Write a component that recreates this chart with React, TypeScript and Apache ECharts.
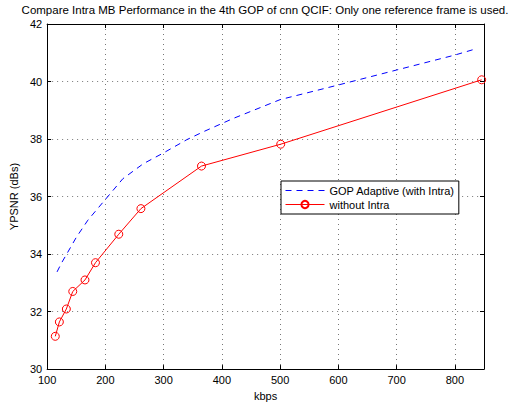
import React, { useEffect, useRef } from "react";
import * as echarts from "echarts";

// Bit rate (kbps) and Y-PSNR (dB) for the 4th GOP of cnn QCIF
const adaptiveKbps = [117, 125, 135, 150, 170, 200, 230, 265, 300, 340, 370, 420, 500, 600, 700, 800, 835];
const adaptivePsnr = [33.38, 33.7, 34.05, 34.58, 35.18, 35.9, 36.62, 37.14, 37.52, 37.98, 38.27, 38.72, 39.37, 39.88, 40.4, 40.92, 41.13];

const noIntraKbps = [114, 121, 133, 144, 165, 183, 223, 261, 365, 501, 846];
const noIntraPsnr = [31.14, 31.64, 32.09, 32.7, 33.1, 33.7, 34.69, 35.58, 37.06, 37.82, 40.06];

const xTicks = { min: 100, max: 850, interval: 100 };
const yTicks = { min: 30, max: 42, interval: 2 };

const FONT = "'Liberation Sans', Arial, Helvetica, sans-serif";

export default function App() {
  const ref = useRef<HTMLDivElement>(null);

  useEffect(() => {
    if (!ref.current) return;
    const chart = echarts.init(ref.current, undefined, { renderer: "svg" });

    const pair = (xs: number[], ys: number[]) => xs.map((x, i) => [x, ys[i]]);
    const frameLine = { show: true, onZero: false, lineStyle: { color: "#000", width: 1 } };
    const innerTick = { show: true, inside: true, length: 4, lineStyle: { color: "#000" } };
    const dotted = { show: true, lineStyle: { color: "#777", type: [1, 4] as number[], width: 1 } };

    chart.setOption({
      animation: false,
      backgroundColor: "#fff",
      textStyle: { fontFamily: FONT },
      grid: { left: 44, top: 24, width: 440, height: 347, containLabel: false },
      graphic: [
        {
          type: "text",
          x: 265,
          y: 4,
          style: {
            text: "Compare Intra MB Performance in the 4th GOP of cnn QCIF: Only one reference frame is used.",
            font: `11.5px ${FONT}`,
            fill: "#000",
            textAlign: "center",
            textVerticalAlign: "top",
          },
        },
      ],
      legend: {
        orient: "vertical",
        left: 281,
        top: 181,
        padding: [4, 4, 4, 4],
        itemGap: 3,
        itemWidth: 39,
        itemHeight: 9,
        backgroundColor: "#fff",
        borderColor: "#000",
        borderWidth: 1,
        lineStyle: { width: 1 },
        textStyle: { fontSize: 11, color: "#000", fontFamily: FONT, padding: [0, 0, 0, 0] },
        data: [
          {
            name: "GOP Adaptive (with Intra)",
            // dashed line only, no marker in the key
            itemStyle: { color: "transparent", borderColor: "transparent", borderWidth: 0, opacity: 0 },
          },
          { name: "without Intra" },
        ],
      },
      xAxis: [
        {
          type: "value",
          ...xTicks,
          name: "kbps",
          nameLocation: "middle",
          nameGap: 20,
          nameTextStyle: { fontSize: 11, color: "#000", fontFamily: FONT },
          axisLine: frameLine,
          axisTick: innerTick,
          axisLabel: { fontSize: 11, color: "#000", margin: 5, showMaxLabel: false, fontFamily: FONT },
          splitLine: dotted,
        },
        {
          type: "value",
          ...xTicks,
          position: "top",
          axisLine: frameLine,
          axisTick: innerTick,
          axisLabel: { show: false },
          splitLine: { show: false },
        },
      ],
      yAxis: [
        {
          type: "value",
          ...yTicks,
          name: "YPSNR (dBs)",
          nameLocation: "middle",
          nameGap: 26,
          nameTextStyle: { fontSize: 11, color: "#000", fontFamily: FONT },
          axisLine: frameLine,
          axisTick: innerTick,
          axisLabel: { fontSize: 11, color: "#000", margin: 5, fontFamily: FONT },
          splitLine: dotted,
        },
        {
          type: "value",
          ...yTicks,
          position: "right",
          axisLine: frameLine,
          axisTick: innerTick,
          axisLabel: { show: false },
          splitLine: { show: false },
        },
      ],
      series: [
        {
          name: "GOP Adaptive (with Intra)",
          type: "line",
          data: pair(adaptiveKbps, adaptivePsnr),
          showSymbol: false,
          symbol: "none",
          lineStyle: { color: "#0000ff", width: 1, type: [6, 5] },
          itemStyle: { color: "#0000ff" },
        },
        {
          name: "without Intra",
          type: "line",
          data: pair(noIntraKbps, noIntraPsnr),
          symbol: "circle",
          symbolSize: 8,
          lineStyle: { color: "#ff0000", width: 1 },
          itemStyle: { color: "transparent", borderColor: "#ff0000", borderWidth: 1 },
        },
      ],
    });

    return () => chart.dispose();
  }, []);

  return (
    <div
      ref={ref}
      style={{ position: "fixed", left: 0, top: 0, width: 518, height: 406, background: "#fff" }}
    />
  );
}
